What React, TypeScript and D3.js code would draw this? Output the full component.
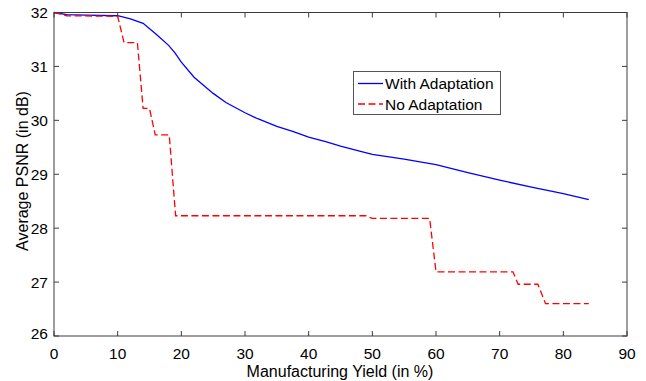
import React from "react";
import * as d3 from "d3";

const xTicks = [0, 10, 20, 30, 40, 50, 60, 70, 80, 90];
const yTicks = [26, 27, 28, 29, 30, 31, 32];

const withX = [0, 2, 5, 10, 12, 14, 16, 18, 19, 20, 22, 25, 27, 30, 32, 35, 37.6, 40, 42.8, 45, 48, 50, 55, 60, 65, 70, 75, 80, 84];
const withY = [32, 31.96, 31.95, 31.94, 31.88, 31.8, 31.6, 31.39, 31.25, 31.08, 30.8, 30.5, 30.33, 30.14, 30.03, 29.89, 29.79, 29.69, 29.6, 29.52, 29.43, 29.37, 29.28, 29.18, 29.03, 28.89, 28.76, 28.64, 28.53];

const noX = [0, 2, 10, 11, 13.1, 14, 15, 15.9, 18.1, 19.1, 49, 50, 59, 60, 72.1, 72.9, 76, 77.2, 84];
const noY = [32, 31.94, 31.93, 31.44, 31.44, 30.22, 30.22, 29.73, 29.73, 28.23, 28.23, 28.18, 28.18, 27.19, 27.19, 26.96, 26.96, 26.6, 26.6];

const W = 646, H = 381;
const L = 54, R = 627, T = 12.5, B = 336;
const font = "'Liberation Sans', Arial, Helvetica, sans-serif";

export default function App() {
  const x = d3.scaleLinear().domain([0, 90]).range([L, R]);
  const y = d3.scaleLinear().domain([26, 32]).range([B, T]);
  const line = d3.line<[number, number]>().x(d => x(d[0])).y(d => y(d[1]));
  const withPts = withX.map((v, i) => [v, withY[i]] as [number, number]);
  const noPts = noX.map((v, i) => [v, noY[i]] as [number, number]);
  const axisColor = "#3c3c3c";
  return (
    <svg width={W} height={H} style={{ position: "absolute", left: 0, top: 0, background: "#fff" }} fontFamily={font}>
      <rect x={0} y={0} width={W} height={H} fill="#fff" />
      {xTicks.map(t => (
        <g key={"xt" + t}>
          <line x1={x(t)} x2={x(t)} y1={B} y2={B - 5} stroke={axisColor} />
          <line x1={x(t)} x2={x(t)} y1={T} y2={T + 5} stroke={axisColor} />
          <text x={x(t)} y={359} textAnchor="middle" fontSize={15.5} fill="#000">{t}</text>
        </g>
      ))}
      {yTicks.map(t => (
        <g key={"yt" + t}>
          <line x1={L} x2={L + 5} y1={y(t)} y2={y(t)} stroke={axisColor} />
          <line x1={R} x2={R - 5} y1={y(t)} y2={y(t)} stroke={axisColor} />
          <text x={48} y={y(t) + 5.5 - (t === 26 ? 3 : 0)} textAnchor="end" fontSize={15.5} fill="#000">{t}</text>
        </g>
      ))}
      <path d={line(withPts) || ""} fill="none" stroke="#0000ff" strokeWidth={1.3} />
      <path d={line(noPts) || ""} fill="none" stroke="#ff0000" strokeWidth={1.3} strokeDasharray="7,3.5" />
      <rect x={L} y={T} width={R - L} height={B - T} fill="none" stroke={axisColor} strokeWidth={1} />
      <rect x={353.5} y={71.5} width={147} height={43} fill="#fff" stroke="#555" strokeWidth={1} />
      <line x1={358} x2={383} y1={83.5} y2={83.5} stroke="#0000ff" strokeWidth={1.3} />
      <text x={385} y={89} fontSize={15.5} fill="#000">With Adaptation</text>
      <line x1={358} x2={383} y1={104} y2={104} stroke="#ff0000" strokeWidth={1.3} strokeDasharray="7,3.5" />
      <text x={385} y={110} fontSize={15.5} fill="#000">No Adaptation</text>
      <text x={340} y={377} textAnchor="middle" fontSize={16} fill="#000">Manufacturing Yield (in %)</text>
      <text transform={`translate(28,171) rotate(-90)`} textAnchor="middle" fontSize={16} fill="#000">Average PSNR (in dB)</text>
    </svg>
  );
}
